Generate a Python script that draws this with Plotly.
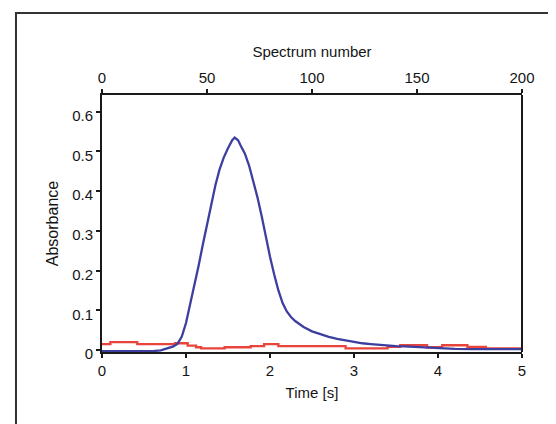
import plotly.graph_objects as go

# ---- data ----
blue_time = [0.0, 0.2, 0.4, 0.6, 0.7, 0.75, 0.8, 0.85, 0.9, 0.95, 1.0, 1.05, 1.1, 1.15,
             1.2, 1.25, 1.3, 1.35, 1.4, 1.45, 1.5, 1.55, 1.58, 1.62, 1.65, 1.7, 1.75,
             1.8, 1.85, 1.9, 1.95, 2.0, 2.05, 2.1, 2.15, 2.2, 2.25, 2.3, 2.4, 2.5, 2.6,
             2.7, 2.8, 2.9, 3.0, 3.1, 3.2, 3.3, 3.4, 3.5, 3.6, 3.7, 3.8, 3.9, 4.0, 4.2,
             4.4, 4.6, 5.0]
blue_abs = [-0.003, -0.003, -0.003, -0.003, -0.001, 0.002, 0.005, 0.009, 0.016, 0.034,
            0.068, 0.115, 0.165, 0.212, 0.265, 0.318, 0.368, 0.415, 0.455, 0.485, 0.508,
            0.528, 0.535, 0.528, 0.515, 0.495, 0.465, 0.428, 0.385, 0.338, 0.285, 0.235,
            0.19, 0.15, 0.118, 0.097, 0.083, 0.073, 0.058, 0.047, 0.04, 0.033, 0.028,
            0.024, 0.02, 0.017, 0.015, 0.013, 0.011, 0.01, 0.009, 0.008, 0.007, 0.005,
            0.004, 0.003, 0.002, 0.002, 0.002]

red_time = [0.0, 0.1, 0.42, 0.87, 1.02, 1.12, 1.18, 1.46, 1.77, 1.93, 2.1, 2.9, 3.4,
            3.55, 3.87, 4.05, 4.35, 4.57, 5.0]
red_abs = [0.015, 0.020, 0.015, 0.017, 0.011, 0.007, 0.004, 0.007, 0.010, 0.015, 0.010,
           0.004, 0.008, 0.012, 0.007, 0.012, 0.008, 0.004, 0.004]

time_ticks = [0, 1, 2, 3, 4, 5]
abs_ticks = [0, 0.1, 0.2, 0.3, 0.4, 0.5, 0.6]
abs_tick_labels = ["0", "0.1", "0.2", "0.3", "0.4", "0.5", "0.6"]
spectrum_ticks = [0, 50, 100, 150, 200]

FONT = "Liberation Sans, Arial, sans-serif"
TXT = "#151515"
FS = 15

fig = go.Figure()
fig.add_trace(go.Scatter(x=red_time, y=red_abs, mode="lines", line_shape="hv",
                         line=dict(color="#e8443c", width=2.3), showlegend=False,
                         hoverinfo="skip"))
fig.add_trace(go.Scatter(x=blue_time, y=blue_abs, mode="lines",
                         line=dict(color="#3c3fa0", width=2.3), showlegend=False,
                         hoverinfo="skip"))
# invisible trace to carry the top "Spectrum number" axis
fig.add_trace(go.Scatter(x=[spectrum_ticks[0], spectrum_ticks[-1]], y=[0, 0],
                         xaxis="x2", mode="lines", line=dict(width=0),
                         opacity=0, showlegend=False, hoverinfo="skip"))

axis_common = dict(showgrid=False, zeroline=False, showline=True, linecolor="#1a1a1a",
                   linewidth=2, ticks="outside", ticklen=4, tickwidth=1.5,
                   tickcolor="#1a1a1a", tickfont=dict(family=FONT, size=FS, color=TXT),
                   mirror=False)

# the page body adds an 8px offset, so the figure is 8px smaller than the window
fig.update_layout(
    width=548, height=416,
    margin=dict(l=94, r=34, t=87, b=72),
    paper_bgcolor="white", plot_bgcolor="white",
    font=dict(family=FONT, size=FS, color=TXT),
    xaxis=dict(range=[0, 5], tickvals=time_ticks, **axis_common,
               title=dict(text="Time [s]", font=dict(family=FONT, size=FS, color=TXT),
                          standoff=9)),
    xaxis2=dict(range=[0, 200], tickvals=spectrum_ticks, overlaying="x", side="top",
                anchor="y", **axis_common,
                title=dict(text="Spectrum number", font=dict(family=FONT, size=FS, color=TXT),
                           standoff=8)),
    yaxis=dict(range=[-0.005, 0.642], tickvals=abs_ticks, ticktext=abs_tick_labels,
               **axis_common, ticklabelshift=4,
               title=dict(text="Absorbance", font=dict(family=FONT, size=16, color=TXT),
                          standoff=10)),
    shapes=[
        # right border of plot area
        dict(type="line", xref="paper", yref="paper", x0=1, x1=1, y0=0, y1=1,
             line=dict(color="#1a1a1a", width=2)),
        # outer frame running off the image
        dict(type="rect", xref="paper", yref="paper", x0=-0.2048, x1=1.3,
             y0=-0.6, y1=1.319, line=dict(color="#333333", width=2),
             fillcolor="rgba(0,0,0,0)", layer="below"),
    ],
)

fig.write_html("out.html")
